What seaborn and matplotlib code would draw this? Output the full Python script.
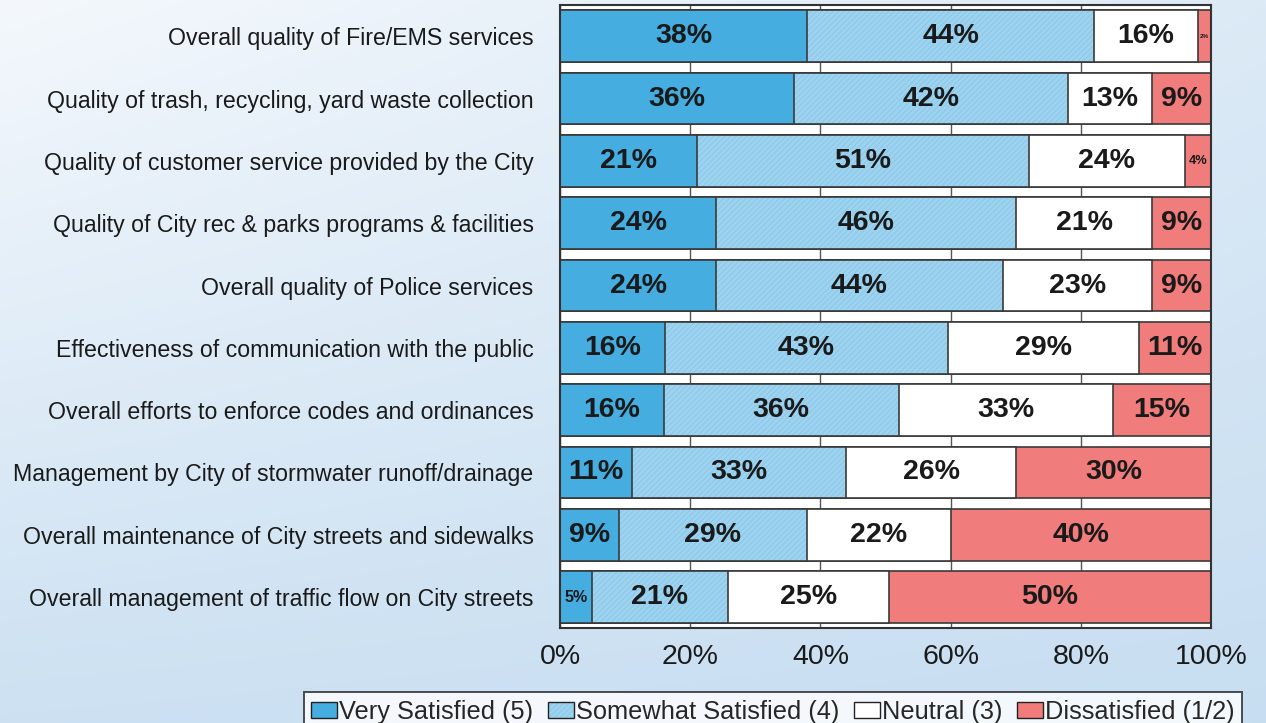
import numpy as np
import pandas as pd
import matplotlib
matplotlib.use("Agg")
import matplotlib.pyplot as plt
import seaborn as sns
from matplotlib.patches import Patch
from matplotlib.colors import to_rgba

categories = [
    "Overall quality of Fire/EMS services",
    "Quality of trash, recycling, yard waste collection",
    "Quality of customer service provided by the City",
    "Quality of City rec & parks programs & facilities",
    "Overall quality of Police services",
    "Effectiveness of communication with the public",
    "Overall efforts to enforce codes and ordinances",
    "Management by City of stormwater runoff/drainage",
    "Overall maintenance of City streets and sidewalks",
    "Overall management of traffic flow on City streets",
]
very_satisfied = [38, 36, 21, 24, 24, 16, 16, 11, 9, 5]
somewhat_satisfied = [44, 42, 51, 46, 44, 43, 36, 33, 29, 21]
neutral = [16, 13, 24, 21, 23, 29, 33, 26, 22, 25]
dissatisfied = [2, 9, 4, 9, 9, 11, 15, 30, 40, 50]

series_names = ["Very Satisfied (5)", "Somewhat Satisfied (4)", "Neutral (3)", "Dissatisfied (1/2)"]
series_colors = ["#45ADE0", "#9ED3F0", "#FFFFFF", "#F07C7C"]
tick_values = [0, 20, 40, 60, 80, 100]
tick_labels = ["0%", "20%", "40%", "60%", "80%", "100%"]

sns.set_theme(style="white")
plt.rcParams["font.family"] = ["Liberation Sans", "DejaVu Sans"]
plt.rcParams["hatch.linewidth"] = 0.6

df = pd.DataFrame({
    "category": categories,
    "v5": very_satisfied,
    "v4": somewhat_satisfied,
    "v3": neutral,
    "v2": dissatisfied,
})
raw = df[["v5", "v4", "v3", "v2"]].to_numpy(dtype=float)
shares = raw / raw.sum(axis=1, keepdims=True) * 100
cum = np.cumsum(shares, axis=1)

fig = plt.figure(figsize=(12.66, 7.23), dpi=100)

# background gradient
bg = fig.add_axes([0, 0, 1, 1], zorder=-10)
yy, xx = np.mgrid[0:1:256j, 0:1:256j]
t = np.clip(0.75 * yy + 0.35 * xx * (1 - yy) + 0.1 * xx, 0, 1)
top = np.array(to_rgba("#F4F8FC")[:3])
bot = np.array(to_rgba("#BFD9EF")[:3])
img = top[None, None, :] * (1 - t[:, :, None]) + bot[None, None, :] * t[:, :, None]
bg.imshow(img, aspect="auto", extent=[0, 1, 0, 1])
bg.set_axis_off()

ax = fig.add_axes([0.4423, 0.131, 0.5143, 0.862])
ax.set_facecolor("white")

edge = "#3a3a3a"
for j in [3, 2, 1, 0]:
    n_before = len(ax.patches)
    sns.barplot(x=cum[:, j], y=df["category"], orient="h", color=series_colors[j],
                saturation=1, width=0.83, edgecolor=edge, linewidth=1.2, ax=ax, zorder=2)
    if j == 1:
        for p in ax.patches[n_before:]:
            p.set_hatch("//////")
            p._hatch_color = to_rgba("#86C5E8")

# labels
for i in range(len(categories)):
    for j in range(4):
        left = cum[i, j] - shares[i, j]
        center = left + shares[i, j] / 2
        val = raw[i, j]
        fs = min(20.5, val * 2.3)
        ax.text(center, i, f"{int(val)}%", ha="center", va="center",
                fontsize=fs, fontweight="bold", color="#1a1a1a", zorder=5)

ax.set_xlim(0, 100)
ax.set_xticks(tick_values)
ax.set_xticklabels(tick_labels, fontsize=20.5)
ax.set_xlabel("")
ax.set_ylabel("")
ax.tick_params(axis="y", labelsize=16.7, length=0, pad=19)
ax.tick_params(axis="x", length=0, pad=11)
for lbl in ax.get_yticklabels():
    lbl.set_color("#1a1a1a")
for lbl in ax.get_xticklabels():
    lbl.set_color("#1a1a1a")
ax.xaxis.grid(True, color="#555555", linewidth=1.0, zorder=0)
ax.set_axisbelow(True)
for s in ax.spines.values():
    s.set_color("#333333")
    s.set_linewidth(1.5)

handles = []
for name, c in zip(series_names, series_colors):
    h = Patch(facecolor=c, edgecolor="#222222", linewidth=1.0, label=name)
    if name.startswith("Somewhat"):
        h.set_hatch("//////")
        h._hatch_color = to_rgba("#86C5E8")
    handles.append(h)
leg = fig.legend(handles=handles, loc="lower center", bbox_to_anchor=(0.6105, -0.012), ncol=4,
                 fontsize=18.3, frameon=True, fancybox=False, edgecolor="#222222",
                 handlelength=1.0, handleheight=0.55, handletextpad=0.08,
                 columnspacing=0.6, borderpad=0.3, borderaxespad=0)
leg.get_frame().set_linewidth(1.4)
leg.get_frame().set_facecolor("white")

fig.savefig("out.png", dpi=100)
